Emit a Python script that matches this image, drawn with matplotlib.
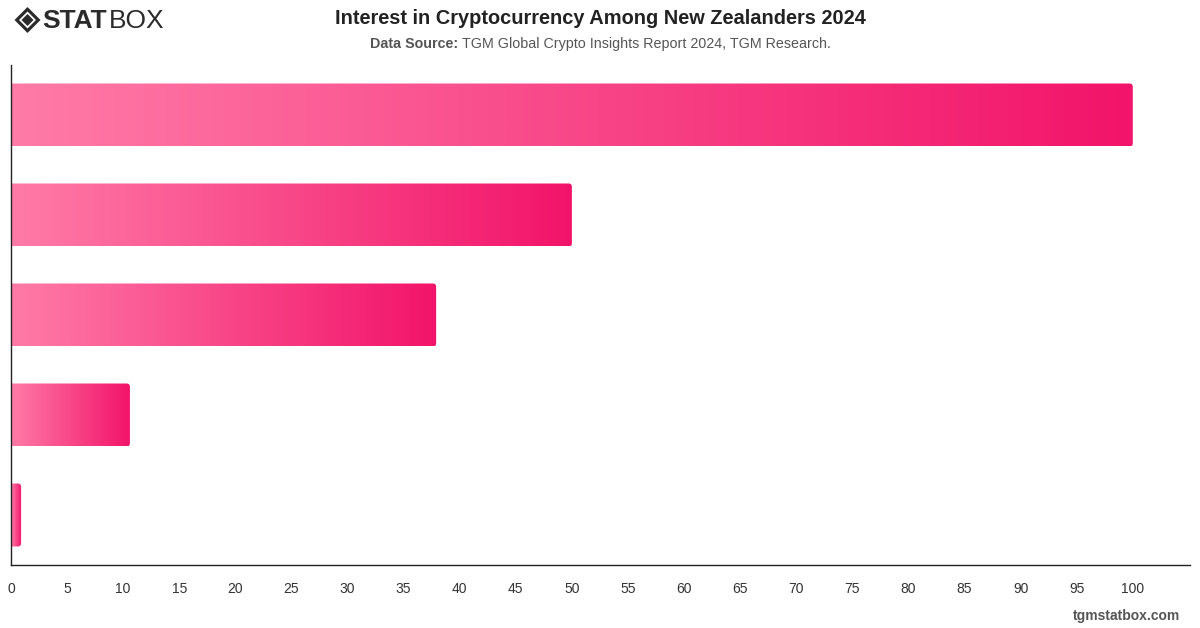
import numpy as np
import matplotlib.pyplot as plt
from matplotlib.patches import FancyBboxPatch, Polygon
from matplotlib.colors import LinearSegmentedColormap

plt.rcParams['font.family'] = ['Liberation Sans', 'DejaVu Sans']

categories = ["Very interested", "Somewhat interested", "Neutral", "Not very interested", "Not at all interested"]
values = [100, 50, 37.9, 10.6, 0.9]
ticks = list(range(0, 101, 5))

fig = plt.figure(figsize=(12, 6.28), dpi=100)
ax = fig.add_axes([11 / 1200, 1 - 565 / 628, 1179 / 1200, 500 / 628])

cmap = LinearSegmentedColormap.from_list("pink", ["#ff7ba7", "#f2146a"])
grad = np.linspace(0, 1, 256).reshape(1, -1)
bar_h = 0.63

for i, v in enumerate(values):
    y0 = i - bar_h / 2
    im = ax.imshow(grad, cmap=cmap, aspect="auto", extent=[0, v, y0 + bar_h, y0],
                   interpolation="bicubic", zorder=2)
    clip = FancyBboxPatch((-0.5, y0), v + 0.5, bar_h,
                          boxstyle="round,pad=0,rounding_size=0.3",
                          mutation_aspect=0.11, transform=ax.transData,
                          facecolor="none", edgecolor="none")
    ax.add_patch(clip)
    im.set_clip_path(clip)

ax.set_xlim(0, 105.1)
ax.set_ylim(4.5, -0.5)
ax.set_yticks([])
ax.set_xticks(ticks)
ax.set_xticklabels([str(t) for t in ticks], fontsize=10, color="#333333")
ax.tick_params(axis="x", length=0, pad=12)
for s in ["top", "right"]:
    ax.spines[s].set_visible(False)
ax.spines["left"].set_color("#222222")
ax.spines["bottom"].set_color("#222222")
ax.spines["left"].set_linewidth(1)
ax.spines["bottom"].set_linewidth(1)

# title and subtitle
fig.text(0.5, 1 - 18 / 628, "Interest in Cryptocurrency Among New Zealanders 2024",
         ha="center", va="center", fontsize=14.4, fontweight="bold", color="#222222")
sub_y = 1 - 44 / 628
t1 = fig.text(0, sub_y, "Data Source: ", ha="left", va="center",
              fontsize=10.3, fontweight="bold", color="#555555")
t2 = fig.text(0, sub_y, "TGM Global Crypto Insights Report 2024, TGM Research.",
              ha="left", va="center", fontsize=10.3, color="#555555")
r = fig.canvas.get_renderer()
w1 = t1.get_window_extent(r).width
w2 = t2.get_window_extent(r).width
x0 = (1200 - (w1 + w2)) / 2
t1.set_x(x0 / 1200)
t2.set_x((x0 + w1) / 1200)

# logo
cx, cy = 27.5 / 1200, 1 - 20 / 628
def dia(x, y, rr):
    return [(x - rr / 1200, y), (x, y + rr / 628), (x + rr / 1200, y), (x, y - rr / 628)]
for rr, col in [(13, "#2b2b2b"), (8.5, "white"), (6, "#2b2b2b")]:
    fig.patches.append(Polygon(dia(cx, cy, rr), closed=True, transform=fig.transFigure,
                               facecolor=col, edgecolor="none"))
fig.text(42 / 1200, 1 - 21 / 628, "STAT", ha="left", va="center", fontsize=19,
         fontweight="heavy", color="#2b2b2b")
fig.text(109 / 1200, 1 - 21 / 628, "BOX", ha="left", va="center", fontsize=19,
         fontweight="light", color="#2b2b2b")

fig.text(1180 / 1200, 1 - 616 / 628, "tgmstatbox.com", ha="right", va="center",
         fontsize=10, fontweight="bold", color="#555555")

fig.savefig("out.png", dpi=100, facecolor="white")
